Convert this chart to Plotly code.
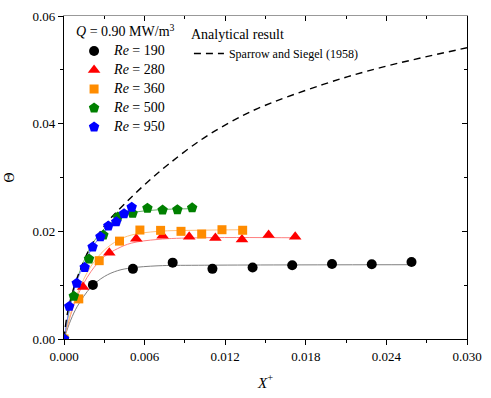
import plotly.graph_objects as go

# Experimental data (X+, Theta)
x190 = [0.0, 0.00215, 0.00513, 0.00809, 0.01105, 0.01404, 0.01699, 0.01995, 0.02291, 0.02587]
y190 = [0.0, 0.01005, 0.01303, 0.01418, 0.01303, 0.01327, 0.01369, 0.01394, 0.01388, 0.01430]
x280 = [0.0, 0.00142, 0.00337, 0.00538, 0.00734, 0.00932, 0.01127, 0.01325, 0.01523, 0.01721]
y280 = [0.0, 0.00964, 0.0160, 0.0186, 0.0192, 0.0190, 0.01878, 0.0185, 0.0193, 0.0190]
x360 = [0.0, 0.0011, 0.00262, 0.00413, 0.00565, 0.00719, 0.00871, 0.01025, 0.01176, 0.0133]
y360 = [0.0, 0.00745, 0.01455, 0.01818, 0.02024, 0.02018, 0.0200, 0.0195, 0.0203, 0.0202]
x500 = [0.0, 0.00073, 0.00186, 0.00293, 0.00401, 0.00511, 0.00621, 0.00734, 0.00844, 0.00954]
y500 = [0.0, 0.00794, 0.01485, 0.0193, 0.02267, 0.02333, 0.0243, 0.02394, 0.0240, 0.02436]
x950 = [0.0, 0.00039, 0.00095, 0.00154, 0.00213, 0.00271, 0.0033, 0.00389, 0.00447, 0.00504]
y950 = [0.0, 0.00606, 0.01036, 0.01327, 0.0171, 0.0190, 0.0210, 0.02176, 0.02327, 0.02448]

# Fitted curves
fx190 = [0, 0.0005, 0.001, 0.002, 0.003, 0.004, 0.005, 0.007, 0.010, 0.0259]
fy190 = [0, 0.0035, 0.0061, 0.0096, 0.0116, 0.0127, 0.0132, 0.0136, 0.0137, 0.0138]
fx280 = [0, 0.0005, 0.001, 0.002, 0.003, 0.004, 0.005, 0.007, 0.010, 0.0175]
fy280 = [0, 0.0045, 0.0080, 0.0125, 0.0153, 0.0168, 0.0178, 0.0185, 0.0188, 0.0188]
fx360 = [0, 0.0005, 0.001, 0.002, 0.003, 0.004, 0.005, 0.007, 0.010, 0.0133]
fy360 = [0, 0.0048, 0.0085, 0.0135, 0.0165, 0.0183, 0.0193, 0.0200, 0.0202, 0.0203]
fx500 = [0, 0.0005, 0.001, 0.002, 0.003, 0.004, 0.005, 0.007, 0.0095]
fy500 = [0, 0.0065, 0.0113, 0.0172, 0.0205, 0.0224, 0.0234, 0.0240, 0.0242]
fx950 = [0, 0.0005, 0.001, 0.002, 0.003, 0.004, 0.005]
fy950 = [0, 0.0068, 0.0110, 0.0165, 0.0200, 0.0225, 0.0243]

# Analytical result (Sparrow and Siegel, 1958)
ax_ = [0, 0.0002, 0.0005, 0.001, 0.002, 0.0034, 0.0046, 0.0061, 0.0078, 0.0102, 0.0124, 0.0144, 0.0193, 0.0237, 0.030]
ay_ = [0, 0.0040, 0.0075, 0.0115, 0.0172, 0.0222, 0.0253, 0.0289, 0.0325, 0.0370, 0.0403, 0.0428, 0.0473, 0.0505, 0.0541]

labels = ["190", "280", "360", "500", "950"]
FONT = "Liberation Serif"

fig = go.Figure()

fits = [(fx190, fy190, "#808080"), (fx280, fy280, "#ff7f7f"), (fx360, fy360, "#ffc07a"),
        (fx500, fy500, "#66b266"), (fx950, fy950, "#7f7fff")]
for fx, fy, c in fits:
    fig.add_trace(go.Scatter(x=fx, y=fy, mode="lines", line=dict(color=c, width=1, shape="spline"),
                             showlegend=False, hoverinfo="skip"))

fig.add_trace(go.Scatter(x=ax_, y=ay_, mode="lines", line=dict(color="black", width=1.4, dash="7px,5px", shape="spline"),
                         name="Sparrow and Siegel (1958)", legend="legend2"))

series = [(x190, y190, "black", "circle", 10),
          (x280, y280, "red", "triangle-up", 11),
          (x360, y360, "#ff8c00", "square", 9),
          (x500, y500, "green", "pentagon", 11),
          (x950, y950, "blue", "pentagon", 11)]
for (xs, ys, c, sym, sz), lab in zip(series, labels):
    fig.add_trace(go.Scatter(x=xs, y=ys, mode="markers",
                             marker=dict(color=c, symbol=sym, size=sz, line=dict(width=0)),
                             name=f'<span style="font-size:14px"><i>Re</i> = {lab}</span>', legend="legend"))

fig.update_layout(
    width=491, height=398,
    margin=dict(l=64, r=18, t=9, b=59),
    paper_bgcolor="white", plot_bgcolor="white",
    font=dict(family=FONT, size=13, color="black"),
    xaxis=dict(range=[0, 0.030], tickvals=[0, 0.006, 0.012, 0.018, 0.024, 0.030],
               ticktext=["0.000", "0.006", "0.012", "0.018", "0.024", "0.030"],
               ticks="outside", ticklen=5, tickwidth=1, tickcolor="black",
               minor=dict(tickvals=[0.003, 0.009, 0.015, 0.021, 0.027], ticks="outside", ticklen=3, tickcolor="black"),
               showline=True, linecolor="black", linewidth=1.3, showgrid=False, zeroline=False,
               title=dict(text="<i>X</i><sup>+</sup>", font=dict(size=15), standoff=14)),
    yaxis=dict(range=[0, 0.06], tickvals=[0, 0.02, 0.04, 0.06],
               ticktext=["0.00", "0.02", "0.04", "0.06"],
               ticks="outside", ticklen=5, tickwidth=1, tickcolor="black",
               minor=dict(tickvals=[0.01, 0.03, 0.05], ticks="outside", ticklen=3, tickcolor="black"),
               showline=True, linecolor="black", linewidth=1.3, showgrid=False, zeroline=False,
               title=dict(text="Θ", font=dict(size=14), standoff=14)),
    xaxis2=dict(overlaying="x", side="top", matches="x", range=[0, 0.030],
                tickvals=[0, 0.006, 0.012, 0.018, 0.024, 0.030], showticklabels=False,
                ticks="inside", ticklen=5, tickcolor="black",
                minor=dict(tickvals=[0.003, 0.009, 0.015, 0.021, 0.027], ticks="inside", ticklen=3, tickcolor="black"),
                showline=True, linecolor="#999999", linewidth=1.3, showgrid=False, zeroline=False),
    yaxis2=dict(overlaying="y", side="right", matches="y", range=[0, 0.06],
                tickvals=[0, 0.02, 0.04, 0.06], showticklabels=False,
                ticks="inside", ticklen=5, tickcolor="black",
                minor=dict(tickvals=[0.01, 0.03, 0.05], ticks="inside", ticklen=3, tickcolor="black"),
                showline=True, linecolor="black", linewidth=1.3, showgrid=False, zeroline=False),
    legend=dict(x=0.025, y=0.985, xanchor="left", yanchor="top", bgcolor="rgba(0,0,0,0)",
                title=dict(text='<span style="font-size:14px"><i>Q</i> = 0.90 MW/m<sup>3</sup></span>'),
                font=dict(size=10), tracegroupgap=0, itemwidth=30),
    legend2=dict(x=0.31, y=0.985, xanchor="left", yanchor="top", bgcolor="rgba(0,0,0,0)",
                 title=dict(text="Analytical result", font=dict(size=14), side="top"),
                 font=dict(size=12), itemwidth=30),
)

# dummy trace to activate secondary axes
fig.add_trace(go.Scatter(x=[None], y=[None], xaxis="x2", yaxis="y2", showlegend=False))

fig.write_html("out.html")
